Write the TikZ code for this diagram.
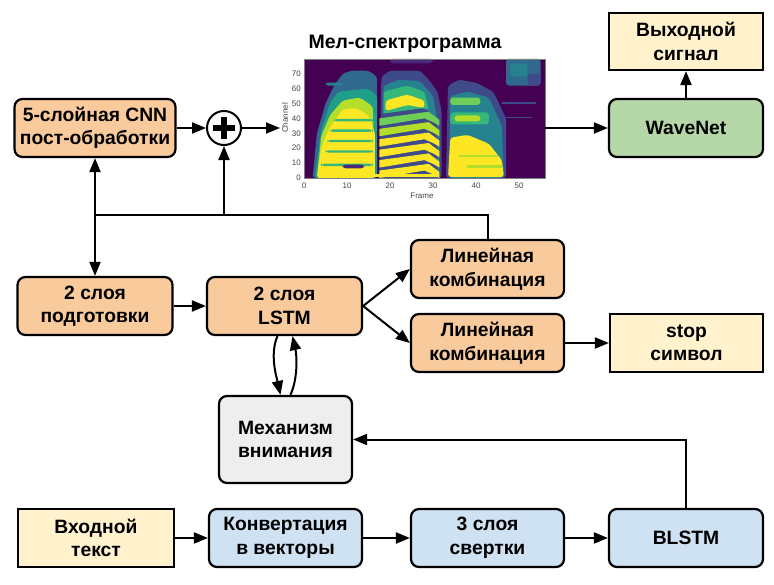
\documentclass[tikz,border=0pt]{standalone}
\usepackage{fontspec}
\setmainfont{Liberation Sans}
\usetikzlibrary{arrows.meta}
\newcommand\bxfont{\fontsize{19.3}{23.5}\selectfont\bfseries}
\definecolor{vA}{HTML}{440154}
\definecolor{vB}{HTML}{482878}
\definecolor{vC}{HTML}{3E4A89}
\definecolor{vD}{HTML}{31688E}
\definecolor{vE}{HTML}{26828E}
\definecolor{vF}{HTML}{1F9E89}
\definecolor{vG}{HTML}{35B779}
\definecolor{vH}{HTML}{6ECE58}
\definecolor{vI}{HTML}{B5DE2B}
\definecolor{vJ}{HTML}{FDE725}
\definecolor{cor}{HTML}{F9CB9C}
\definecolor{cgr}{HTML}{B6D7A8}
\definecolor{cbl}{HTML}{CFE2F3}
\definecolor{cye}{HTML}{FFF2CC}
\definecolor{cgy}{HTML}{EEEEEE}
\definecolor{tick}{HTML}{444444}
\tikzset{
  x=1pt,y=-1pt,
  box/.style={draw=black,line width=2.2pt,rounded corners=8pt,minimum width=155pt,minimum height=58pt,align=center,font=\bxfont,inner sep=2pt},
  sqbox/.style={box,sharp corners},
  ln/.style={line width=2pt},
  arr/.style={ln,-{Triangle[length=14pt,width=11pt]}},
  ticklab/.style={font=\fontsize{8}{9}\selectfont,text=tick,inner sep=0pt}
}
\begin{document}
\begin{tikzpicture}
\useasboundingbox (0,0) rectangle (774,584);
\fill[white] (0,0) rectangle (774,584);

% ---------- spectrogram ----------
\node[font=\fontsize{19.5}{22}\selectfont\bfseries] (title) at (405,44) {Мел-спектрограмма};
\begin{scope}[shift={(304,178)},xscale=4.3,yscale=-1.49]
\fill[vA] (0,0) rectangle (56,80);
\begin{scope}[rounded corners=3pt]
% top right patch
\fill[vD] (47,62) rectangle (55,80);
\fill[vE] (48,68) rectangle (52,77);
\fill[vC] (52,62) rectangle (55,70);
\fill[vB] (20,77) rectangle (30,80);
% segment A
\fill[vD] (2,0) -- (3,30) -- (5,50) -- (7,62) -- (9,70) -- (11,72) -- (15,72) -- (17,68) -- (17,0) -- cycle;
\fill[vF] (2.5,0) -- (4,32) -- (6,50) -- (8,58) -- (15,60) -- (17,55) -- (17,0) -- cycle;
\fill[vI] (3,0) -- (4,28) -- (6,42) -- (9,52) -- (13,54) -- (16,48) -- (16.5,0) -- cycle;
\fill[vJ] (3,0) -- (4,20) -- (6,34) -- (9,46) -- (12,47) -- (15,42) -- (16.5,30) -- (16.5,0) -- cycle;
\foreach \c/\s in {8/4,17/5,24/5.5,31/6,38/7}{
  \fill[vG] (\s,\c) rectangle (16,\c+1.6);
}
\fill[vB] (9,6.5) rectangle (14,9);
\fill[vE] (5,62) rectangle (9,64);
% segment B
\fill[vC] (17.5,0) -- (18,68) -- (20,72) -- (27,72) -- (29,66) -- (31,58) -- (32,45) -- (32,0) -- cycle;
\fill[vE] (18,0) -- (18.5,62) -- (22,66) -- (27,65) -- (30,55) -- (31.5,30) -- (31.5,0) -- cycle;
\fill[vG] (18.5,42) -- (18.5,58) -- (24,62) -- (28,58) -- (29,46) -- cycle;
\fill[vJ] (19,45) -- (19,52) -- (24,56) -- (28,52) -- (28,47) -- (24,49) -- cycle;
\fill[vC] (18,0) -- (18,43) -- (28,47) -- (31,40) -- (31,0) -- cycle;
\end{scope}
\foreach \c/\col in {0/vJ,7/vJ,14/vJ,21/vJ,28/vI,35/vH}{
  \fill[\col] (17.5,\c) -- (28,\c+5) -- (30,\c+2.5) -- (31.5,\c) -- (31.5,\c+4) -- (29,\c+9.5) -- (17.5,\c+5) -- cycle;
}
\fill[vJ] (16,0.7) rectangle (31,3);
\begin{scope}[rounded corners=3pt]
% segment C
\fill[vC] (33,0) -- (33.5,62) -- (36,66) -- (40,64) -- (44,58) -- (47,40) -- (47,0) -- cycle;
\fill[vE] (34,0) -- (34,55) -- (38,58) -- (43,54) -- (46,35) -- (46.5,0) -- cycle;
\fill[vH] (34,49) rectangle (41,54);
\fill[vG] (34,36) rectangle (43,44);
\fill[vI] (35,38) rectangle (41,42);
\fill[vJ] (33.5,0.7) -- (34,27) -- (38,29) -- (43,23) -- (46,12) -- (46.5,0.7) -- cycle;
\end{scope}
\fill[vI] (38,7) rectangle (46,8.5);
\fill[vI] (36,14) rectangle (45,15.5);
\fill[vC] (46,40) rectangle (53,41);
\fill[vC] (46,50) rectangle (54,51);
\draw[gray,line width=0.4pt] (0,0) rectangle (56,80);
\end{scope}
% ticks
\foreach \f in {0,10,20,30,40,50}{
  \node[ticklab] (tx\f) at ({304+4.3*\f},186) {\f};
}
\foreach \c in {0,10,20,30,40,50,60,70}{
  \node[ticklab,anchor=east] (ty\c) at (301,{178-1.49*\c}) {\c};
}
\node[ticklab] (frame) at (422,196) {Frame};
\node[ticklab,rotate=90] (chan) at (285,118) {Channel};
\coordinate (specin) at (280,128);
\coordinate (specout) at (545,128);

% ---------- boxes ----------
\node[box,fill=cor,minimum width=161pt] (cnn) at (95,128) {5-слойная CNN\\пост-обработки};
\node[circle,draw=black,line width=2pt,fill=white,minimum size=34pt,inner sep=0pt] (plus) at (224,128) {};
\fill[black] (213,125) rectangle (235,131);
\fill[black] (221,117) rectangle (227,139);
\node[sqbox,fill=cye,minimum width=154pt,minimum height=57pt] (out) at (686,41.5) {Выходной\\сигнал};
\node[box,fill=cgr,minimum width=154pt] (wn) at (686,128) {WaveNet};
\node[box,fill=cor] (pre) at (95,306) {2 слоя\\подготовки};
\node[box,fill=cor] (lstm) at (284.5,306) {2 слоя\\LSTM};
\node[box,fill=cor,minimum width=153pt] (lc1) at (487.5,269) {Линейная\\комбинация};
\node[box,fill=cor,minimum width=153pt] (lc2) at (487.5,343) {Линейная\\комбинация};
\node[sqbox,fill=cye,minimum width=153pt] (stop) at (686.5,343) {stop\\символ};
\node[box,fill=cgy,minimum width=133pt,minimum height=87pt] (att) at (285.5,439.5) {Механизм\\внимания};
\node[sqbox,fill=cye,minimum width=156pt] (inp) at (96,538) {Входной\\текст};
\node[box,fill=cbl,minimum width=153pt] (conv) at (285.5,538) {Конвертация\\в векторы};
\node[box,fill=cbl,minimum width=153pt] (conv3) at (487.5,538) {3 слоя\\свертки};
\node[box,fill=cbl,minimum width=154pt] (blstm) at (686,538) {BLSTM};

% ---------- connectors ----------
\coordinate (j) at (95,215);
\draw[arr] (cnn.east) -- (plus.west);
\draw[arr] (plus.east) -- (specin);
\draw[arr] (specout) -- (wn.west);
\draw[arr] (wn.north) -- (out.south);
\draw[ln,line join=miter] (lc1.north) |- (j);
\draw[arr] (j) -- (cnn.south);
\draw[arr] (j) -- (pre.north);
\draw[arr] (plus.south |- j) -- (plus.south);
\draw[arr] (pre.east) -- (lstm.west);
\draw[arr] (lstm.east) -- (lc1.west);
\draw[arr] (lstm.east) -- (lc2.west);
\draw[arr] (lc2.east) -- (stop.west);
\draw[arr] ([xshift=-7pt]lstm.south) .. controls +(-8,18) and +(-4,-18) .. ([xshift=-5pt]att.north);
\draw[arr] ([xshift=5pt]att.north) .. controls +(8,-18) and +(4,18) .. ([xshift=8pt]lstm.south);
\draw[arr] (blstm.north) |- (att.east);
\draw[arr] (inp.east) -- (conv.west);
\draw[arr] (conv.east) -- (conv3.west);
\draw[arr] (conv3.east) -- (blstm.west);
\end{tikzpicture}
\end{document}
